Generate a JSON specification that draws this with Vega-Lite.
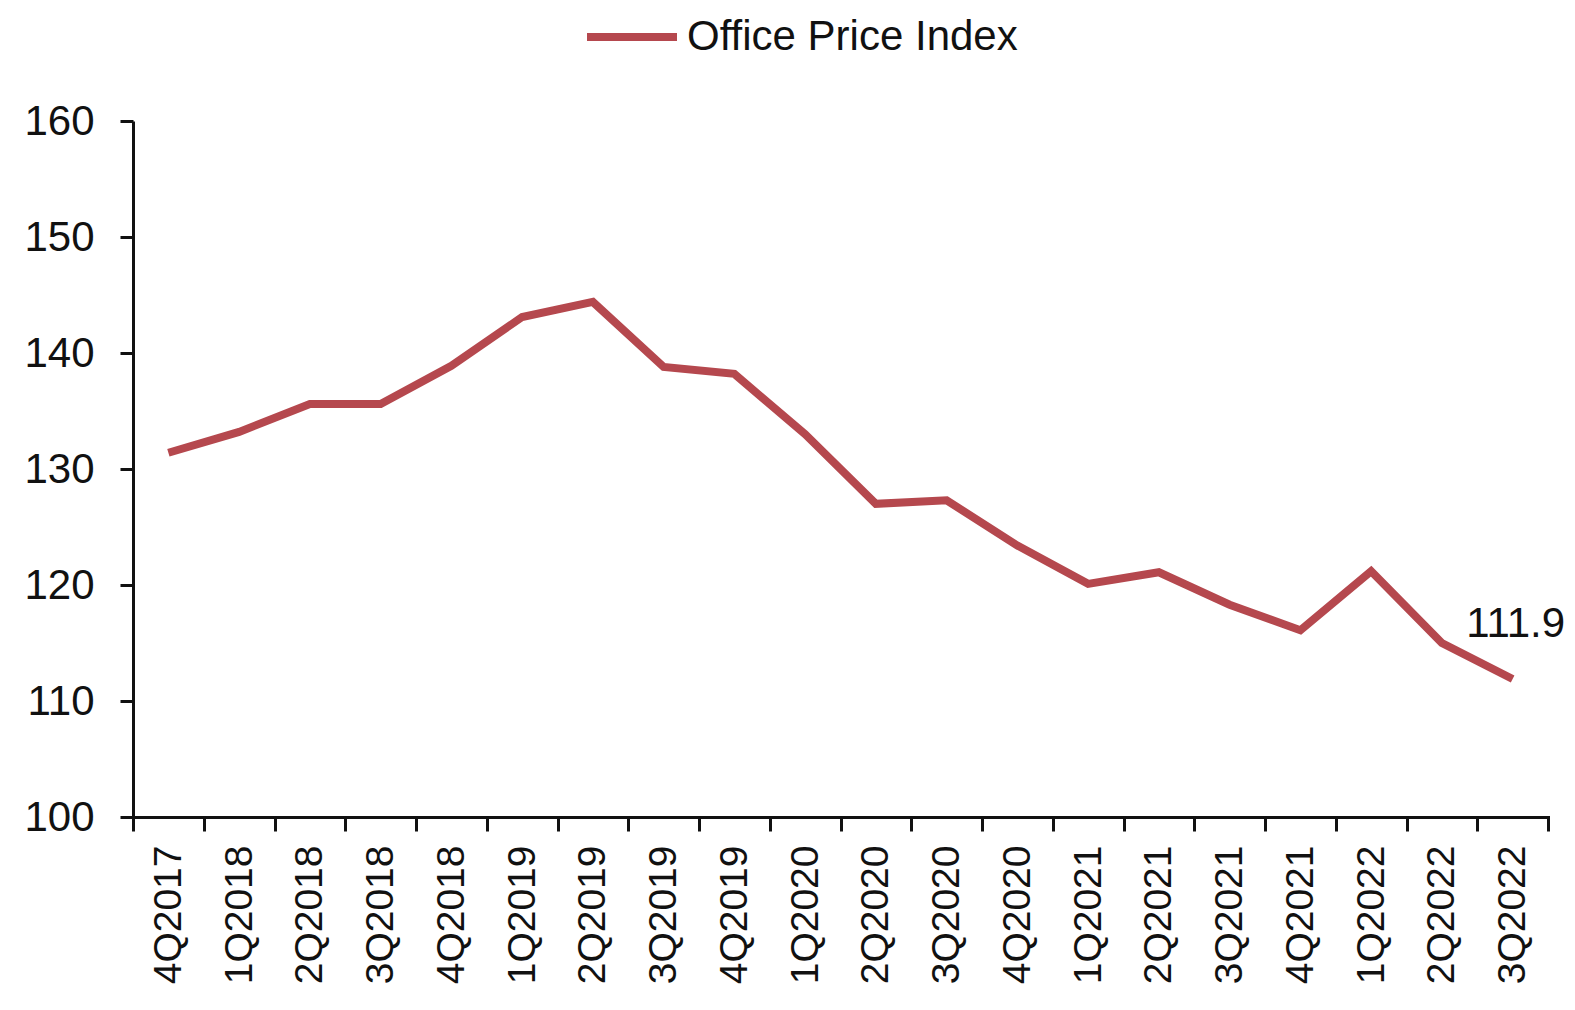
{
  "$schema": "https://vega.github.io/schema/vega-lite/v6.json",
  "width": 1415,
  "height": 696,
  "autosize": {"type": "none"},
  "padding": {"left": 133, "top": 121, "right": 27, "bottom": 193},
  "background": "white",
  "config": {
    "font": "Liberation Sans",
    "view": {"stroke": null},
    "axis": {"grid": false, "domainColor": "#111", "tickColor": "#111", "domainWidth": 3, "tickWidth": 3, "labelColor": "#111", "labelFontSize": 42, "titleFontSize": 0}
  },
  "data": {
    "values": [
      {"quarter": "4Q2017", "value": 131.4, "series": "Office Price Index"},
      {"quarter": "1Q2018", "value": 133.2, "series": "Office Price Index"},
      {"quarter": "2Q2018", "value": 135.6, "series": "Office Price Index"},
      {"quarter": "3Q2018", "value": 135.6, "series": "Office Price Index"},
      {"quarter": "4Q2018", "value": 138.9, "series": "Office Price Index"},
      {"quarter": "1Q2019", "value": 143.1, "series": "Office Price Index"},
      {"quarter": "2Q2019", "value": 144.4, "series": "Office Price Index"},
      {"quarter": "3Q2019", "value": 138.8, "series": "Office Price Index"},
      {"quarter": "4Q2019", "value": 138.2, "series": "Office Price Index"},
      {"quarter": "1Q2020", "value": 133.0, "series": "Office Price Index"},
      {"quarter": "2Q2020", "value": 127.0, "series": "Office Price Index"},
      {"quarter": "3Q2020", "value": 127.3, "series": "Office Price Index"},
      {"quarter": "4Q2020", "value": 123.4, "series": "Office Price Index"},
      {"quarter": "1Q2021", "value": 120.1, "series": "Office Price Index"},
      {"quarter": "2Q2021", "value": 121.1, "series": "Office Price Index"},
      {"quarter": "3Q2021", "value": 118.3, "series": "Office Price Index"},
      {"quarter": "4Q2021", "value": 116.1, "series": "Office Price Index"},
      {"quarter": "1Q2022", "value": 121.2, "series": "Office Price Index"},
      {"quarter": "2Q2022", "value": 115.0, "series": "Office Price Index"},
      {"quarter": "3Q2022", "value": 111.9, "series": "Office Price Index"}
    ]
  },
  "encoding": {
    "x": {
      "field": "quarter",
      "type": "nominal",
      "sort": null,
      "bandPosition": 0.5,
      "scale": {"type": "band", "paddingInner": 0, "paddingOuter": 0},
      "axis": {"title": null, "labelAngle": -90, "labelFontSize": 39, "tickBand": "extent", "tickSize": 14, "labelPadding": 14, "domainCap": "square"}
    },
    "y": {
      "field": "value",
      "type": "quantitative",
      "scale": {"domain": [100, 160], "nice": false, "zero": false},
      "axis": {"title": null, "values": [100, 110, 120, 130, 140, 150, 160], "tickSize": 13, "labelPadding": 26}
    }
  },
  "layer": [
    {
      "mark": {"type": "line", "strokeWidth": 8, "strokeJoin": "miter", "strokeCap": "butt"},
      "encoding": {
        "color": {
          "field": "series",
          "type": "nominal",
          "scale": {"range": ["#b5484e"]},
          "legend": {
            "title": null,
            "orient": "none",
            "legendX": 450,
            "legendY": -133,
            "symbolType": "stroke",
            "symbolSize": 8100,
            "symbolStrokeWidth": 8,
            "symbolStrokeColor": "#b5484e",
            "labelFontSize": 42,
            "labelColor": "#111",
            "labelLimit": 0,
            "labelOffset": 6,
            "padding": 0
          }
        }
      }
    },
    {
      "transform": [{"filter": "datum.quarter === '3Q2022'"}],
      "mark": {"type": "text", "fontSize": 42, "color": "#111", "align": "center", "baseline": "alphabetic", "dx": 3, "dy": -42},
      "encoding": {
        "text": {"field": "value", "type": "quantitative", "format": ".1f"}
      }
    }
  ]
}
